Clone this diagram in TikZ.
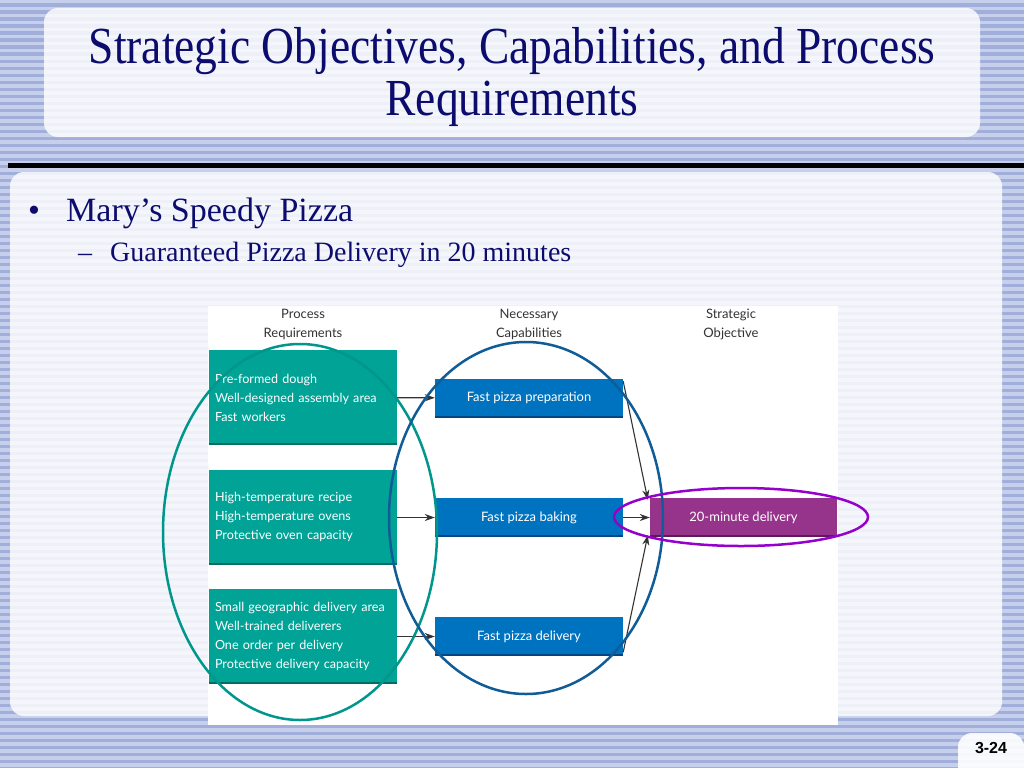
\documentclass[tikz,border=0pt]{standalone}
\usepackage{fontspec}
\setmainfont{Liberation Serif}
\newfontfamily\figfont{Lato}
\newfontfamily\pagefont{Liberation Sans}
\usetikzlibrary{positioning,arrows.meta}
\definecolor{stripeblue}{RGB}{162,174,218}
\definecolor{stripelight}{RGB}{198,207,236}
\definecolor{titlenavy}{RGB}{12,12,110}
\definecolor{procteal}{RGB}{0,163,150}
\definecolor{procdark}{RGB}{0,110,100}
\definecolor{capblue}{RGB}{0,115,192}
\definecolor{capdark}{RGB}{0,70,130}
\definecolor{objpurple}{RGB}{150,52,140}
\definecolor{objdark}{RGB}{95,25,90}
\definecolor{ringteal}{RGB}{0,150,140}
\definecolor{ringblue}{RGB}{16,92,150}
\definecolor{ringviolet}{RGB}{150,0,205}
\newcommand{\narrow}[1]{\scalebox{0.875}[1]{#1}}

\begin{document}
\begin{tikzpicture}[x=1pt, y=-1pt,
    every node/.style={font=\figfont\fontsize{13}{19}\selectfont},
    head/.style={align=center, text=black!80},
    procbox/.style={fill=procteal, text=white, minimum width=188, minimum height=95,
      text width=176, inner xsep=6, align=left, font=\figfont\fontsize{12.6}{19}\selectfont,
      path picture={\fill[procdark] (path picture bounding box.south west) rectangle ([yshift=2pt]path picture bounding box.south east);}},
    capbox/.style={fill=capblue, text=white, minimum width=188, minimum height=39,
      path picture={\fill[capdark] (path picture bounding box.south west) rectangle ([yshift=2pt]path picture bounding box.south east);}},
    objbox/.style={fill=objpurple, text=white, minimum width=187, minimum height=39,
      path picture={\fill[objdark] (path picture bounding box.south west) rectangle ([yshift=2pt]path picture bounding box.south east);}},
    flow/.style={-{Stealth[length=10pt,width=7pt]}, black!80, line width=1.1pt},
    ring/.style={line width=2.5pt},
    slidetext/.style={anchor=base west, inner sep=0, text=titlenavy}]
  \useasboundingbox (0,0) rectangle (1024,768);
  % striped slide background
  \fill[stripeblue] (0,0) rectangle (1024,768);
  \foreach \y in {0,7,...,768}
    \fill[stripelight] (0,\y) rectangle (1024,\y+3.5);
  % panels
  \fill[white, fill opacity=0.82, rounded corners=14] (44,8) rectangle (980,137);
  \fill[black] (8,163) rectangle (1024,168);
  \fill[white, fill opacity=0.82, rounded corners=14] (10,172) rectangle (1002,716);
  \fill[white, fill opacity=0.9] (1024,768) -- (958,768) [rounded corners=14]-- (958,733) -- (1024,733) [sharp corners]-- cycle;
  % title and bullets
  \node[align=center, text=titlenavy, font=\rmfamily\fontsize{52}{52}\selectfont] (title) at (512,77)
    {\narrow{Strategic Objectives, Capabilities, and Process}\\\narrow{Requirements}};
  \node[slidetext, font=\rmfamily\fontsize{34}{38}\selectfont] (dot) at (28,221) {•};
  \node[slidetext, font=\rmfamily\fontsize{34}{38}\selectfont] (shop) at (66,221) {Mary’s Speedy Pizza};
  \node[slidetext, font=\rmfamily\fontsize{28}{32}\selectfont] (dash) at (78,261) {–};
  \node[slidetext, font=\rmfamily\fontsize{28}{32}\selectfont] (promise) at (110,261) {Guaranteed Pizza Delivery in 20 minutes};
  % diagram
  \fill[white] (208,306) rectangle (838,725);
  \node[head] (hproc) at (303,324) {Process\\Requirements};
  \node[head] (hcap) at (529,324) {Necessary\\Capabilities};
  \node[head] (hobj) at (731,324) {Strategic\\Objective};
  \node[procbox] (dough) at (303,397.5) {Pre-formed dough\\Well-designed assembly area\\Fast workers};
  \node[procbox] (oven) at (303,517) {High-temperature recipe\\High-temperature ovens\\Protective oven capacity};
  \node[procbox] (area) at (303,636.5) {Small geographic delivery area\\Well-trained deliverers\\One order per delivery\\Protective delivery capacity};
  \node[capbox] (prep) at (529,398) {Fast pizza preparation};
  \node[capbox] (bake) at (529,517.5) {Fast pizza baking};
  \node[capbox] (deliv) at (529,636.5) {Fast pizza delivery};
  \node[objbox] (goal) at (743.5,517.5) {20-minute delivery};
  \draw[flow] (dough) -- (prep);
  \draw[flow] (oven.east |- bake) -- (bake);
  \draw[flow] (area.east |- deliv) -- (deliv);
  \draw[flow] ([yshift=-3pt]prep.north east) -- ([xshift=-2pt,yshift=-2pt]goal.north west);
  \draw[flow] (bake) -- (goal);
  \draw[flow] ([yshift=4pt]deliv.south east) -- ([xshift=-2pt,yshift=2pt]goal.south west);
  % highlight rings
  \draw[ring, ringteal] (300,532) ellipse [x radius=137, y radius=188];
  \draw[ring, ringblue] (526,518) ellipse [x radius=137, y radius=176];
  \draw[ring, ringviolet] (741,517) ellipse [x radius=127, y radius=29];
  % page number
  \node[font=\pagefont\bfseries\fontsize{16}{18}\selectfont] (page) at (991,748) {3-24};
\end{tikzpicture}
\end{document}
